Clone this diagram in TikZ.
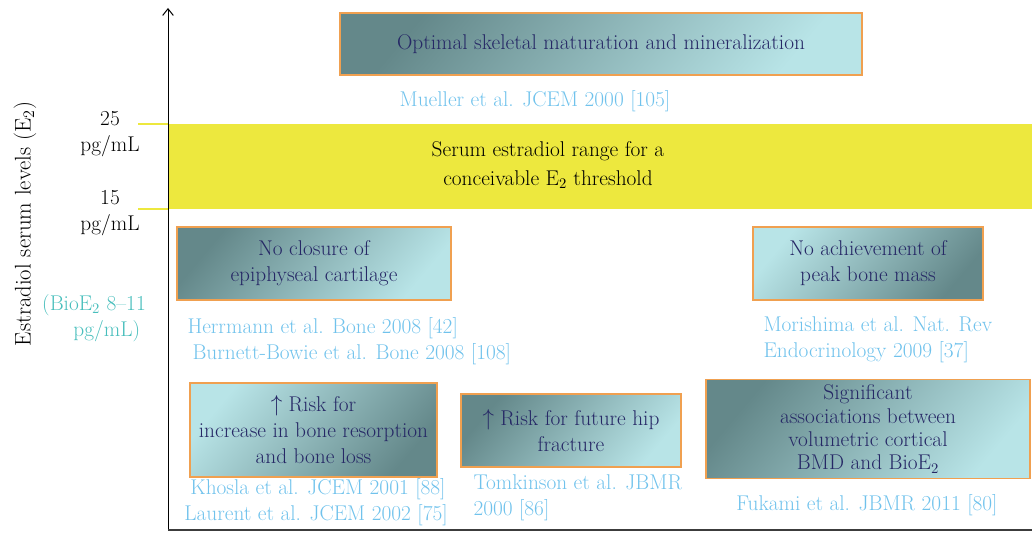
\documentclass[tikz,border=0pt]{standalone}
\usepackage{tikz}
\usetikzlibrary{arrows.meta}

\definecolor{tealdark}{RGB}{100,136,138}
\definecolor{teallight}{RGB}{184,228,231}
\definecolor{boxedge}{RGB}{240,160,80}
\definecolor{boxtext}{RGB}{38,40,102}
\definecolor{citeblue}{RGB}{112,194,236}
\definecolor{bioteal}{RGB}{72,190,188}
\definecolor{bandyellow}{RGB}{237,232,62}
\definecolor{axisgray}{RGB}{60,60,60}

\tikzset{every picture/.style={line width=0.75pt}}
\tikzset{
  txt/.style={inner sep=0.75pt, align=center, font=\fontsize{16}{19.5}\selectfont},
  darkbox/.style={txt, draw=boxedge, line width=1.1pt, text=boxtext,
    top color=tealdark, bottom color=teallight, shading angle=50},
  lightbox/.style={txt, draw=boxedge, line width=1.1pt, text=boxtext,
    top color=teallight, bottom color=tealdark, shading angle=50},
  cite/.style={txt, text=citeblue},
}

\begin{document}
\begin{tikzpicture}[x=0.75pt,y=0.75pt,yscale=-1,xscale=1]
\useasboundingbox (0,0) rectangle (1032,538);

%Shape: Rectangle [band]
\fill [bandyellow] (168,124) rectangle (1032,209) ;
%Straight Lines [ticks]
\draw [bandyellow, line width=1pt]  (138,124) -- (168,124) ;
\draw [bandyellow, line width=1pt]  (138,209) -- (168,209) ;

%Straight Lines [axes]
\coordinate (origin) at (168,530) ;
\coordinate (ytop) at (168,8) ;
\coordinate (xend) at (1032,530) ;
\draw [-{Straight Barb[length=5pt,width=8pt]}]  (origin) -- (ytop) ;
\draw [axisgray, line width=2pt]  (origin) -- (xend) ;

% Box Nodes
\draw (601,44) node [darkbox, minimum width=391.5pt, minimum height=46.5pt] (optimal) {Optimal skeletal maturation and mineralization};
\draw (314,263.5) node [darkbox, minimum width=205.5pt, minimum height=54.75pt] (closure) {No closure of\\ epiphyseal cartilage};
\draw (868,263.5) node [lightbox, minimum width=172.5pt, minimum height=54.75pt] (peak) {No achievement of\\ peak bone mass};
\draw (313.5,430) node [lightbox, minimum width=185.25pt, minimum height=70.5pt] (resorption) {$\uparrow$ Risk for\\ increase in bone resorption\\ and bone loss};
\draw (571,430.5) node [darkbox, minimum width=165pt, minimum height=54.75pt] (hip) {$\uparrow$ Risk for future hip\\ fracture};
\draw (862,429) node [darkbox, minimum width=243pt, minimum height=74.25pt, xshift=4.5pt, font=\fontsize{16}{17.5}\selectfont] (bmd) {Significant\\ associations between\\ volumetric cortical\\ BMD and BioE$_2$};

% Text Node
\draw (548,165) node [txt, font=\fontsize{16}{22}\selectfont] (range) {Serum estradiol range for a\\ conceivable E$_2$ threshold};
% Text Node
\draw (25,224) node [txt, rotate=90, font=\fontsize{17}{19}\selectfont] (ylabel) {Estradiol serum levels (E$_2$)};
% Text Node
\draw (110,134) node [txt] (upper) {25\\ pg/mL};
% Text Node
\draw (110,213) node [txt] (lower) {15\\ pg/mL};
% Text Node
\draw (94,318) node [txt, text=bioteal] (bio) {(BioE$_2$ 8--11\\ \hspace*{1.2em}pg/mL)};

% Citation Nodes
\draw (535,101) node [cite] (mueller) {Mueller et al. JCEM 2000 [105]};
\draw (186,328) node [cite, anchor=west] (herrmann) {Herrmann et al. Bone 2008 [42]};
\draw (191,354) node [cite, anchor=west] (burnett) {Burnett-Bowie et al. Bone 2008 [108]};
\draw (762,340) node [cite, anchor=west, align=left] (morishima) {Morishima et al. Nat. Rev\\ Endocrinology 2009 [37]};
\draw (318,489) node [cite] (khosla) {Khosla et al. JCEM 2001 [88]};
\draw (316,515) node [cite] (laurent) {Laurent et al. JCEM 2002 [75]};
\draw (472,498) node [cite, anchor=west, align=left] (tomkinson) {Tomkinson et al. JBMR\\ 2000 [86]};
\draw (867,505) node [cite] (fukami) {Fukami et al. JBMR 2011 [80]};

\end{tikzpicture}
\end{document}
